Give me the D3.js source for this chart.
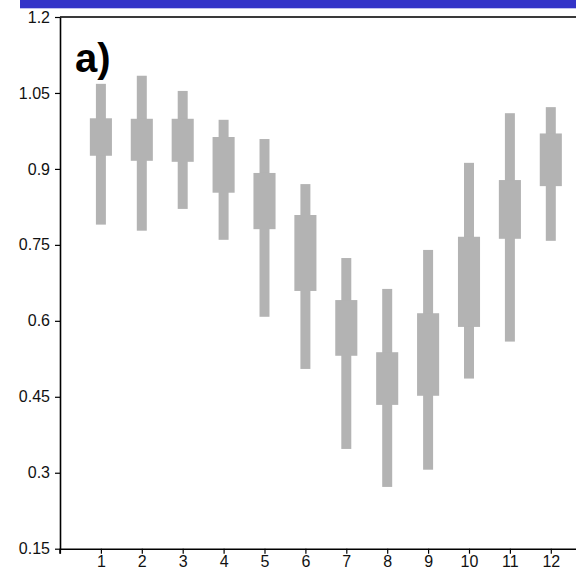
<!DOCTYPE html>
<html>
<head>
<meta charset="utf-8">
<script src="https://cdn.jsdelivr.net/npm/d3@7"></script>
<style>
  html, body { margin: 0; padding: 0; background: #fff; }
  svg { display: block; }
  text { font-family: "Liberation Sans", Arial, sans-serif; }
</style>
</head>
<body>
<svg id="chart" width="576" height="569"></svg>
<script>
// Data (months 1..12): whisker low/high, box low/high
const months = [1, 2, 3, 4, 5, 6, 7, 8, 9, 10, 11, 12];
const whiskerHigh = [1.068, 1.084, 1.054, 0.997, 0.959, 0.870, 0.724, 0.663, 0.740, 0.912, 1.010, 1.022];
const boxHigh     = [1.000, 0.999, 0.999, 0.963, 0.892, 0.809, 0.641, 0.538, 0.615, 0.766, 0.878, 0.970];
const boxLow      = [0.926, 0.916, 0.914, 0.853, 0.781, 0.659, 0.531, 0.434, 0.452, 0.588, 0.762, 0.866];
const whiskerLow  = [0.790, 0.778, 0.821, 0.760, 0.608, 0.505, 0.347, 0.272, 0.306, 0.486, 0.559, 0.758];
const yTicks = [0.15, 0.3, 0.45, 0.6, 0.75, 0.9, 1.05, 1.2];
const yTickLabels = ["0.15", "0.3", "0.45", "0.6", "0.75", "0.9", "1.05", "1.2"];
const xTicks = [0, 1, 2, 3, 4, 5, 6, 7, 8, 9, 10, 11, 12];
const panelLabel = "a)";

(function () {
const svg = d3.select("#chart");
const mLeft = 60, mTop = 17, mBottom = 548.7;

const x = d3.scaleLinear().domain([0, 13.7]).range([mLeft, mLeft + 13.7 * 40.9]);
const y = d3.scaleLinear().domain([0.15, 1.2]).range([mBottom, mTop]);

// top blue band
svg.append("rect").attr("x", 20).attr("y", 0).attr("width", 556).attr("height", 8.3).attr("fill", "#3434C8");

// top border
svg.append("line").attr("x1", mLeft).attr("x2", 576).attr("y1", mTop).attr("y2", mTop)
  .attr("stroke", "#3a3a3a").attr("stroke-width", 2);

const gray = "#b3b3b3";
const wW = x(0.244) - x(0), bW = x(0.54) - x(0);
const data = months.map((m, i) => ({ m, wh: whiskerHigh[i], bh: boxHigh[i], bl: boxLow[i], wl: whiskerLow[i] }));

const g = svg.append("g");
g.selectAll("rect.w").data(data).join("rect").attr("class", "w")
  .attr("x", d => x(d.m) - wW / 2).attr("width", wW)
  .attr("y", d => y(d.wh)).attr("height", d => y(d.wl) - y(d.wh))
  .attr("fill", gray);
g.selectAll("rect.b").data(data).join("rect").attr("class", "b")
  .attr("x", d => x(d.m) - bW / 2).attr("width", bW)
  .attr("y", d => y(d.bh)).attr("height", d => y(d.bl) - y(d.bh))
  .attr("fill", gray);

// Y axis
const yAxis = d3.axisLeft(y).tickValues(yTicks).tickFormat((d, i) => yTickLabels[i]).tickSize(5).tickSizeOuter(0).tickPadding(5);
const ya = svg.append("g").attr("transform", `translate(${mLeft},0)`).call(yAxis);
ya.select(".domain").attr("stroke", "#000").attr("stroke-width", 1.6);
ya.selectAll(".tick line").attr("stroke", "#000").attr("stroke-width", 1.2);
ya.selectAll(".tick text").attr("font-size", 16).attr("fill", "#111")
  .attr("font-family", "'Liberation Sans', Arial, sans-serif");
// extend y axis line down
svg.append("line").attr("x1", mLeft).attr("x2", mLeft).attr("y1", mBottom).attr("y2", mBottom + 5)
  .attr("stroke", "#000").attr("stroke-width", 1.6);

// X axis
const xAxis = d3.axisBottom(x).tickValues(xTicks).tickFormat(d => d === 0 ? "" : d).tickSize(5).tickSizeOuter(0).tickPadding(1.5);
const xa = svg.append("g").attr("transform", `translate(0,${mBottom})`).call(xAxis);
xa.select(".domain").attr("stroke", "#000").attr("stroke-width", 1.6);
xa.selectAll(".tick line").attr("stroke", "#000").attr("stroke-width", 1.2);
xa.selectAll(".tick text").attr("font-size", 16).attr("fill", "#111")
  .attr("font-family", "'Liberation Sans', Arial, sans-serif");

// panel label
svg.append("text").attr("x", 75).attr("y", 72).attr("font-size", 40).attr("font-weight", "bold")
  .attr("fill", "#000").text(panelLabel);
})();
</script>
</body>
</html>
